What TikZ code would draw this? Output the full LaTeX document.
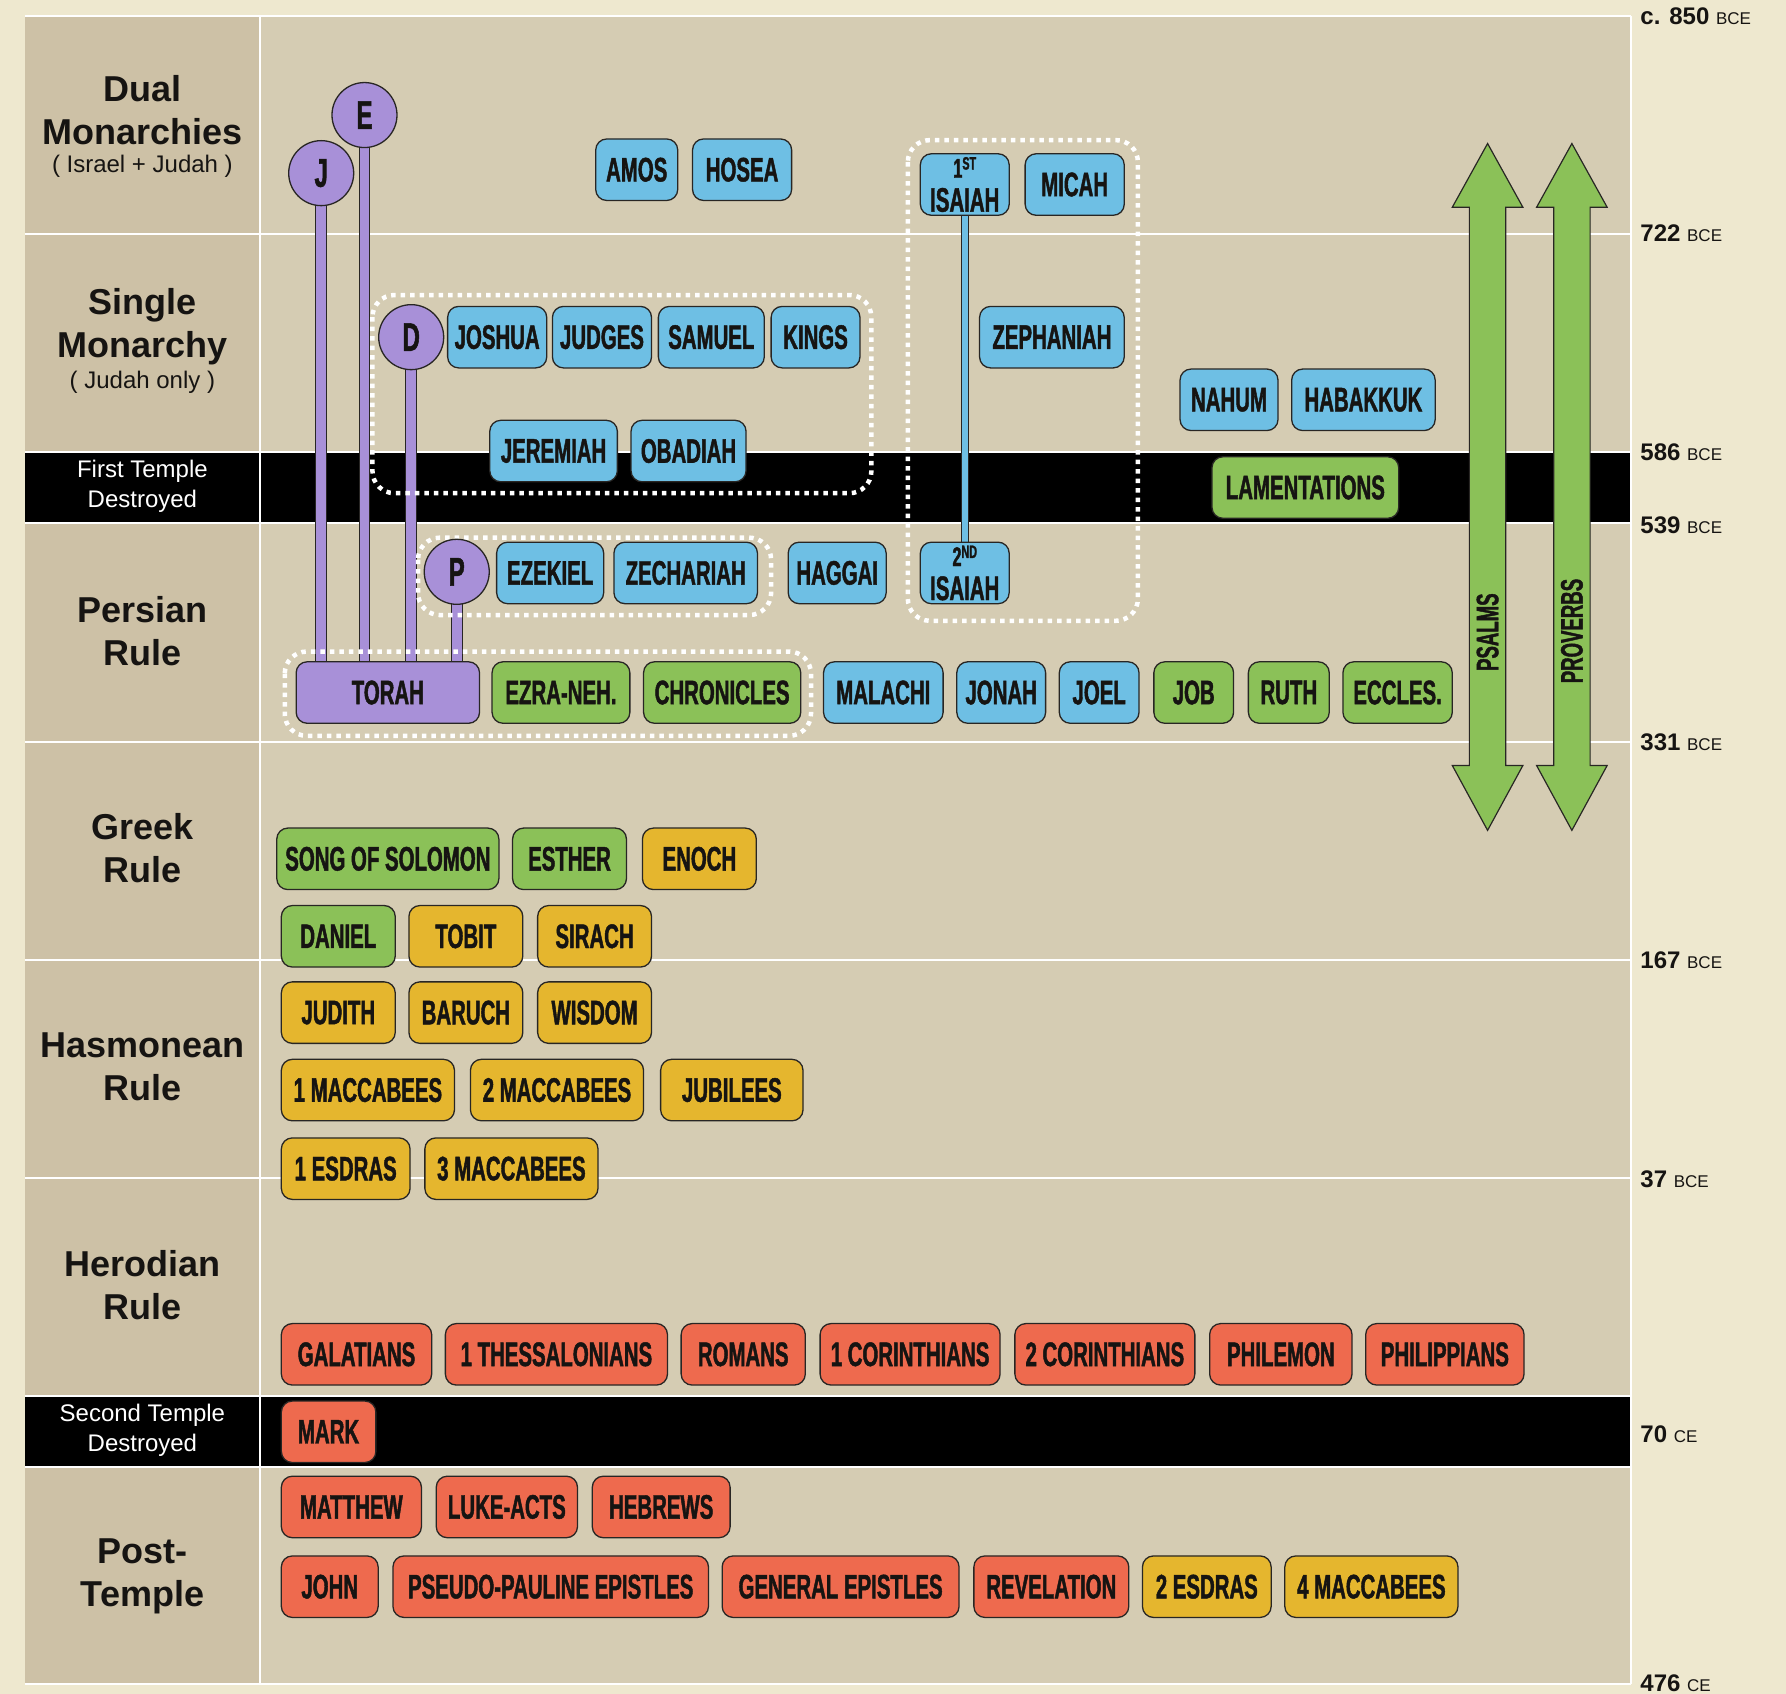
\documentclass[tikz,border=0pt]{standalone}
\usepackage{fontspec}
\setmainfont{Liberation Sans}
\newfontfamily\bkfont{Liberation Sans}[FakeStretch=0.6,FakeBold=1.3]
\pgfdeclarelayer{bg}
\pgfdeclarelayer{conn}
\pgfsetlayers{bg,conn,main}
\definecolor{cream}{RGB}{238,232,207}
\definecolor{panel}{RGB}{213,204,179}
\definecolor{lcol}{RGB}{205,193,166}
\definecolor{bblue}{RGB}{110,191,228}
\definecolor{bgreen}{RGB}{139,193,88}
\definecolor{byellow}{RGB}{229,182,46}
\definecolor{bred}{RGB}{238,106,78}
\definecolor{bpurple}{RGB}{168,144,216}
\definecolor{edge}{RGB}{40,38,36}
\definecolor{ink}{RGB}{22,20,18}
\tikzset{
 book/.style={draw=edge, line width=1.3pt, rounded corners=11pt, minimum height=61.5pt, inner sep=0pt, align=center, text=ink, font=\bkfont\bfseries\fontsize{34}{34}\selectfont},
 src/.style={circle, draw=edge, line width=1.3pt, fill=bpurple, minimum size=65pt, inner sep=0pt, text=ink, font=\bkfont\bfseries\fontsize{40}{40}\selectfont},
 pline/.style={draw=edge, line width=1.2pt, double=bpurple, double distance=9.5pt},
 bline/.style={draw=edge, line width=1.1pt, double=bblue, double distance=6pt},
 grp/.style={draw=white, line width=4.5pt, dash pattern=on 4.5pt off 5pt, rounded corners=22pt},
 period/.style={align=center, text=ink, font=\bfseries\fontsize{36}{43}\selectfont},
 periodsub/.style={text=ink, font=\fontsize{24}{28}\selectfont},
 destr/.style={align=center, text=white, font=\fontsize{24}{30}\selectfont},
 datelbl/.style={anchor=west, text=ink, inner sep=0pt},
 grid/.style={draw=white, line width=2pt},
 longarrow/.style={fill=bgreen, draw=edge, line width=1.2pt},
 arrowlbl/.style={rotate=90, text=ink, inner sep=0pt, font=\bkfont\bfseries\fontsize{31}{31}\selectfont},
}
\newcommand\bx[6]{\node[book, fill=#2, minimum width={(#4-#3)*1.139pt}] (#1) at ({(#3+#4)/2},#5) {#6};}
\newcommand\dt[4]{\node[datelbl] (#1) at (1440,#2) {\fontsize{24}{24}\selectfont\bfseries #3\ \fontsize{17}{17}\selectfont\mdseries #4};}
\newcommand\sups[1]{\raisebox{0.3em}{\fontsize{18}{18}\selectfont #1}}
\begin{document}
\begin{tikzpicture}[x=1.139pt, y=-1.139pt]
\useasboundingbox (0,0) rectangle (1568,1487);
\begin{pgfonlayer}{bg}
\fill[cream] (0,0) rectangle (1568,1487);
\fill[panel] (22,14) rectangle (1432,1478);
\fill[lcol] (22,14) rectangle (228,1478);
\fill[black] (22,397) rectangle (1432,459);
\fill[black] (22,1226) rectangle (1432,1288);
\foreach \yy in {14,205,397,459,651,843,1034,1226,1288,1478}
  \draw[grid] (22,\yy) -- (1432,\yy);
\draw[grid] (228,14) -- (228,1478);
\draw[grid] (1432,14) -- (1432,1478);
\end{pgfonlayer}

% period labels
\node[period] (pDual) at (125,97) {Dual\\Monarchies};
\node[periodsub] (pDualS) at (125,146) {( Israel + Judah )};
\node[period] (pSingle) at (125,287) {Single\\Monarchy};
\node[periodsub] (pSingleS) at (125,336) {( Judah only )};
\node[destr] (pFirst) at (125,427) {First Temple\\Destroyed};
\node[period] (pPersian) at (125,554) {Persian\\Rule};
\node[period] (pGreek) at (125,745) {Greek\\Rule};
\node[period] (pHasm) at (125,937) {Hasmonean\\Rule};
\node[period] (pHerod) at (125,1128) {Herodian\\Rule};
\node[destr] (pSecond) at (125,1256) {Second Temple\\Destroyed};
\node[period] (pPost) at (125,1384) {Post-\\Temple};

% dates
\dt{d850}{14}{c. 850}{BCE}
\dt{d722}{205}{722}{BCE}
\dt{d586}{397}{586}{BCE}
\dt{d539}{461}{539}{BCE}
\dt{d331}{652}{331}{BCE}
\dt{d167}{843}{167}{BCE}
\dt{d37}{1035}{37}{BCE}
\dt{d70}{1259}{70}{CE}
\dt{d476}{1478}{476}{CE}

% sources
\node[src] (J) at (282,152) {J};
\node[src] (E) at (320,101) {E};
\node[src] (D) at (361,296) {D};
\node[src] (P) at (401,502) {P};

% dual monarchies
\bx{amos}{bblue}{523}{595}{149}{AMOS}
\bx{hosea}{bblue}{608}{695}{149}{HOSEA}
\bx{isaiahA}{bblue}{808}{886}{162}{\fontsize{27}{28}\selectfont 1\sups{ST}\\ISAIAH}
\bx{micah}{bblue}{900}{987}{162}{MICAH}
% single monarchy
\bx{joshua}{bblue}{393}{480}{296}{JOSHUA}
\bx{judges}{bblue}{485}{572}{296}{JUDGES}
\bx{samuel}{bblue}{578}{671}{296}{SAMUEL}
\bx{kings}{bblue}{677}{755}{296}{KINGS}
\bx{zeph}{bblue}{860}{987}{296}{ZEPHANIAH}
\bx{nahum}{bblue}{1036}{1122}{351}{NAHUM}
\bx{habakkuk}{bblue}{1134}{1260}{351}{HABAKKUK}
\bx{jeremiah}{bblue}{430}{542}{396}{JEREMIAH}
\bx{obadiah}{bblue}{554}{655}{396}{OBADIAH}
\bx{lament}{bgreen}{1064}{1228}{428}{LAMENTATIONS}
% persian
\bx{ezekiel}{bblue}{436}{530}{503}{EZEKIEL}
\bx{zech}{bblue}{539}{665}{503}{ZECHARIAH}
\bx{haggai}{bblue}{692}{778}{503}{HAGGAI}
\bx{isaiahB}{bblue}{808}{886}{503}{\fontsize{27}{28}\selectfont 2\sups{ND}\\ISAIAH}
\bx{torah}{bpurple}{260}{421}{608}{TORAH}
\bx{ezra}{bgreen}{432}{553}{608}{EZRA-NEH.}
\bx{chron}{bgreen}{565}{703}{608}{CHRONICLES}
\bx{malachi}{bblue}{723}{828}{608}{MALACHI}
\bx{jonah}{bblue}{840}{918}{608}{JONAH}
\bx{joel}{bblue}{930}{1000}{608}{JOEL}
\bx{job}{bgreen}{1013}{1083}{608}{JOB}
\bx{ruth}{bgreen}{1096}{1167}{608}{RUTH}
\bx{eccles}{bgreen}{1179}{1275}{608}{ECCLES.}
% greek
\bx{song}{bgreen}{243}{438}{754}{SONG OF SOLOMON}
\bx{esther}{bgreen}{450}{550}{754}{ESTHER}
\bx{enoch}{byellow}{564}{664}{754}{ENOCH}
\bx{daniel}{bgreen}{247}{347}{822}{DANIEL}
\bx{tobit}{byellow}{359}{459}{822}{TOBIT}
\bx{sirach}{byellow}{472}{572}{822}{SIRACH}
% hasmonean
\bx{judith}{byellow}{247}{347}{889}{JUDITH}
\bx{baruch}{byellow}{359}{459}{889}{BARUCH}
\bx{wisdom}{byellow}{472}{572}{889}{WISDOM}
\bx{macA}{byellow}{247}{399}{957}{1 MACCABEES}
\bx{macB}{byellow}{413}{565}{957}{2 MACCABEES}
\bx{jubilees}{byellow}{580}{705}{957}{JUBILEES}
\bx{esdrasA}{byellow}{247}{360}{1026}{1 ESDRAS}
\bx{macC}{byellow}{373}{525}{1026}{3 MACCABEES}
% herodian
\bx{gal}{bred}{247}{379}{1189}{GALATIANS}
\bx{thess}{bred}{391}{586}{1189}{1 THESSALONIANS}
\bx{rom}{bred}{598}{707}{1189}{ROMANS}
\bx{corA}{bred}{720}{878}{1189}{1 CORINTHIANS}
\bx{corB}{bred}{891}{1049}{1189}{2 CORINTHIANS}
\bx{philem}{bred}{1062}{1187}{1189}{PHILEMON}
\bx{phil}{bred}{1199}{1338}{1189}{PHILIPPIANS}
\bx{mark}{bred}{247}{330}{1257}{MARK}
% post-temple
\bx{matt}{bred}{247}{370}{1323}{MATTHEW}
\bx{luke}{bred}{383}{507}{1323}{LUKE-ACTS}
\bx{hebrews}{bred}{520}{641}{1323}{HEBREWS}
\bx{john}{bred}{247}{332}{1393}{JOHN}
\bx{pseudo}{bred}{345}{622}{1393}{PSEUDO-PAULINE EPISTLES}
\bx{general}{bred}{634}{842}{1393}{GENERAL EPISTLES}
\bx{rev}{bred}{855}{991}{1393}{REVELATION}
\bx{esdrasB}{byellow}{1003}{1116}{1393}{2 ESDRAS}
\bx{macD}{byellow}{1128}{1280}{1393}{4 MACCABEES}

% long arrows (psalms, proverbs)
\path[longarrow] (1306,126) -- (1337,182) -- (1322,182) -- (1322,672) -- (1337,672) -- (1306,729) -- (1275,672) -- (1290,672) -- (1290,182) -- (1275,182) -- cycle;
\path[longarrow] (1380,126) -- (1411,182) -- (1396,182) -- (1396,672) -- (1411,672) -- (1380,729) -- (1349,672) -- (1364,672) -- (1364,182) -- (1349,182) -- cycle;
\node[arrowlbl] (psalms) at (1306,555) {PSALMS};
\node[arrowlbl] (proverbs) at (1380,554) {PROVERBS};

\begin{pgfonlayer}{conn}
\draw[pline] (J.center) -- (J.center |- torah.center);
\draw[pline] (E.center) -- (E.center |- torah.center);
\draw[pline] (D.center) -- (D.center |- torah.center);
\draw[pline] (P.center) -- (P.center |- torah.center);
\draw[bline] (isaiahA.center) -- (isaiahB.center);
\draw[grp] (327,259) rectangle (765,433);
\draw[grp] (797,123) rectangle (999,545);
\draw[grp] (367,472) rectangle (677,540);
\draw[grp] (250,572) rectangle (712,646);
\end{pgfonlayer}
\end{tikzpicture}
\end{document}
